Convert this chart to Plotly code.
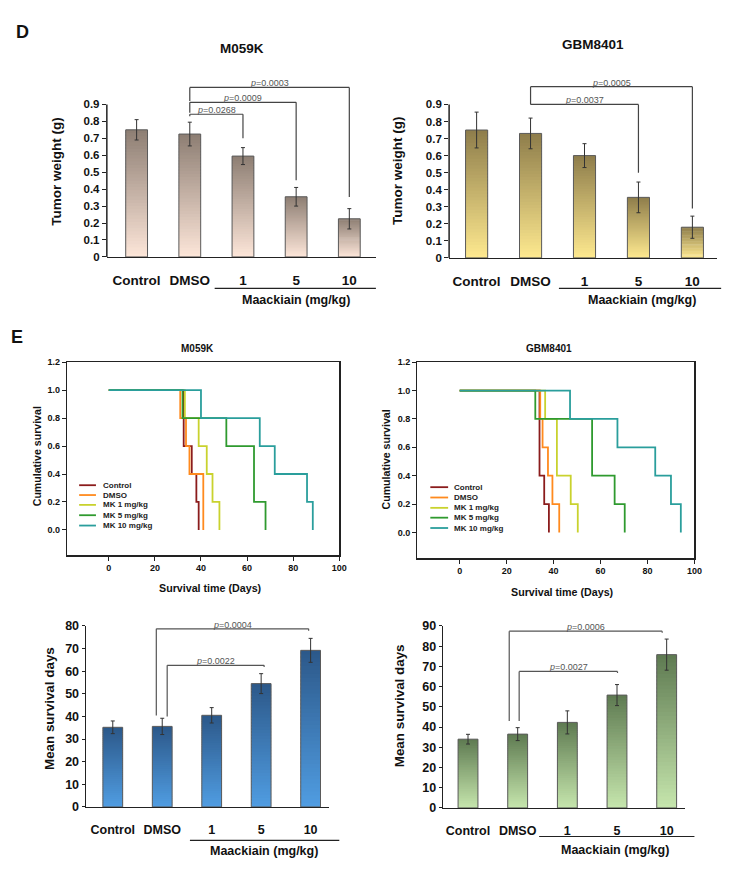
import plotly.graph_objects as go

W, H = 743, 873
FONT = "Liberation Sans, Arial, sans-serif"

# ---------------- data ----------------
categories = ["Control", "DMSO", "1", "5", "10"]

# Panel D: tumor weight (g)
d_m059k_mean = [0.75, 0.725, 0.595, 0.355, 0.225]
d_m059k_err = [0.06, 0.07, 0.05, 0.055, 0.06]
d_gbm_mean = [0.75, 0.73, 0.60, 0.355, 0.18]
d_gbm_err = [0.105, 0.09, 0.07, 0.09, 0.065]

# Panel E (bottom): mean survival days
e_m059k_mean = [35.2, 35.6, 40.5, 54.5, 69.2]
e_m059k_err = [2.8, 3.6, 3.4, 4.4, 5.3]
e_gbm_mean = [34.0, 36.5, 42.3, 55.8, 75.8]
e_gbm_err = [2.4, 3.2, 5.7, 5.2, 7.7]

# significance brackets: (from, to, top, left end, right end, p)
d_m059k_brackets = [(1, 2, 0.842, 0.83, 0.70, "0.0268"),
                    (1, 3, 0.912, 0.85, 0.453, "0.0009"),
                    (1, 4, 1.00, 0.92, 0.354, "0.0003")]
d_gbm_brackets = [(1, 3, 0.90, 0.90, 0.50, "0.0037"),
                  (1, 4, 1.004, 0.90, 0.29, "0.0005")]
e_m059k_brackets = [(1.1, 3.06, 62.6, 40.0, 61.8, "0.0022"),
                    (0.88, 3.96, 78.7, 40.4, 77.9, "0.0004")]
e_gbm_brackets = [(1.03, 3.01, 67.5, 43.0, 66.7, "0.0027"),
                  (0.83, 3.91, 87.4, 43.0, 86.6, "0.0006")]

# Kaplan-Meier curves
km_groups = ["Control", "DMSO", "MK 1 mg/kg", "MK 5 mg/kg", "MK 10 mg/kg"]
km_colors = ["#8b1c1c", "#ff8a1e", "#c9d22e", "#2f9a2f", "#2a9e9c"]
km_m059k_t = [[0, 32.5, 36, 38, 39],
              [0, 31, 33.5, 35, 41],
              [0, 33, 39, 42.5, 45, 48],
              [0, 32, 51, 63, 68],
              [0, 40, 65.5, 72, 86, 88.5]]
km_m059k_s = [[1, 0.6, 0.4, 0.2, 0],
              [1, 0.8, 0.6, 0.4, 0],
              [1, 0.8, 0.6, 0.4, 0.2, 0],
              [1, 0.8, 0.6, 0.2, 0],
              [1, 0.8, 0.6, 0.4, 0.2, 0]]
km_gbm_t = [[0, 34, 36, 38],
            [0, 34.3, 35.3, 37.6, 39.5, 42.4],
            [0, 36.4, 41.4, 47.3, 50.3],
            [0, 32.2, 56.4, 66, 70.3],
            [0, 47, 67.2, 83.3, 90, 94.2]]
km_gbm_s = [[1, 0.4, 0.2, 0],
            [1, 0.8, 0.6, 0.4, 0.2, 0],
            [1, 0.8, 0.4, 0.2, 0],
            [1, 0.8, 0.4, 0.2, 0],
            [1, 0.8, 0.6, 0.4, 0.2, 0]]


# ---------------- helpers ----------------
def px(x):
    return x / W


def py(y):
    return 1 - y / H


def hex2rgb(h):
    h = h.lstrip("#")
    return [int(h[i:i + 2], 16) for i in (0, 2, 4)]


def lerp(c1, c2, t):
    a, b = hex2rgb(c1), hex2rgb(c2)
    return "rgb(%d,%d,%d)" % tuple(round(a[i] + (b[i] - a[i]) * t) for i in range(3))


fig = go.Figure()
shapes = []
annotations = []
N = 40
xpos = list(range(len(categories)))


def add_bar_panel(k, means, errs, top_col, bot_col, brackets, width, line_col):
    xa, ya = ("x%d" % k if k > 1 else "x"), ("y%d" % k if k > 1 else "y")
    for i in range(N):
        frac = 1.0 / N * (1.6 if i < N - 1 else 1.0)
        fig.add_trace(go.Bar(
            x=xpos, y=[m * frac for m in means], base=[m * i / N for m in means],
            width=width, marker=dict(color=lerp(bot_col, top_col, (i + 0.5) / N), line=dict(width=0)),
            xaxis=xa, yaxis=ya, showlegend=False, hoverinfo="skip"))
    fig.add_trace(go.Bar(
        x=xpos, y=means, base=[0] * len(means), width=width,
        marker=dict(color="rgba(0,0,0,0)", line=dict(color="#5a5a5a", width=1)),
        error_y=dict(type="data", array=errs, color="#333333", thickness=1, width=2),
        xaxis=xa, yaxis=ya, showlegend=False))
    for (a, b, top, le, re, p) in brackets:
        for (x0, y0, x1, y1) in [(a, le, a, top), (a, top, b, top), (b, top, b, re)]:
            shapes.append(dict(type="line", xref=xa, yref=ya, x0=x0, y0=y0, x1=x1, y1=y1,
                               line=dict(color=line_col, width=1.2)))
        annotations.append(dict(xref=xa, yref=ya, x=(a + b) / 2, y=top, yanchor="bottom",
                                text="<i>p</i>=" + p, showarrow=False, yshift=-3,
                                font=dict(family=FONT, size=9, color="#555555")))


# Panel D
add_bar_panel(1, d_m059k_mean, d_m059k_err, "#8d7e73", "#fde6d9", d_m059k_brackets, 0.41, "#444444")
add_bar_panel(2, d_gbm_mean, d_gbm_err, "#8e7d4b", "#fee98f", d_gbm_brackets, 0.41, "#444444")
# Panel E bottom
add_bar_panel(5, e_m059k_mean, e_m059k_err, "#2c5889", "#509de2", e_m059k_brackets, 0.40, "#555555")
add_bar_panel(6, e_gbm_mean, e_gbm_err, "#5e7a51", "#c6e6ad", e_gbm_brackets, 0.40, "#555555")

# KM panels
for k, T, S in [(3, km_m059k_t, km_m059k_s), (4, km_gbm_t, km_gbm_s)]:
    for g, c, t, s in zip(km_groups, km_colors, T, S):
        fig.add_trace(go.Scatter(x=t, y=s, mode="lines", line=dict(color=c, width=1.8, shape="hv"),
                                 name=g, xaxis="x%d" % k, yaxis="y%d" % k, showlegend=False))

# KM legends (compact, drawn as line samples + text)
for (lx0, lx1, tx, rows) in [(80, 97, 102, [486, 496, 506, 516.5, 527]),
                             (435, 453, 457, [488, 498.5, 509, 519, 529.5])]:
    for g, c, r in zip(km_groups, km_colors, rows):
        shapes.append(dict(type="line", xref="paper", yref="paper", x0=px(lx0), x1=px(lx1),
                           y0=py(r), y1=py(r), line=dict(color=c, width=1.8)))
        annotations.append(dict(xref="paper", yref="paper", x=px(tx), y=py(r), xanchor="left",
                                yanchor="middle", text=g, showarrow=False,
                                font=dict(family=FONT, size=8, color="#222", weight="bold")))

# ---------------- axes ----------------
bar_x_common = dict(showgrid=False, zeroline=False, showline=True, linecolor="#222", linewidth=1.5,
                    tickmode="array", tickvals=xpos, ticktext=categories, ticks="outside",
                    tickcolor="rgba(0,0,0,0)", fixedrange=True)
bar_y_common = dict(showgrid=False, zeroline=False, showline=False, ticks="outside",
                    tickcolor="#222", ticklen=4, tickwidth=1, fixedrange=True)

D_TICKS = [0, 0.1, 0.2, 0.3, 0.4, 0.5, 0.6, 0.7, 0.8, 0.9]
D_TICKTEXT = ["0"] + ["%.1f" % v for v in D_TICKS[1:]]

layout_axes = dict(
    xaxis=dict(domain=[px(108), px(380)], range=[-0.56, 4.5], ticklen=10,
               tickfont=dict(family=FONT, size=13.5, color="#111", weight="bold"), anchor="y", **bar_x_common),
    yaxis=dict(domain=[py(254), py(76.6)], range=[0, 1.03], tickvals=D_TICKS, ticktext=D_TICKTEXT,
               tickfont=dict(family=FONT, size=11.5, color="#111", weight="bold"), anchor="x", **bar_y_common),
    xaxis2=dict(domain=[px(454), px(725)], range=[-0.51, 4.46], ticklen=10,
                tickfont=dict(family=FONT, size=13.5, color="#111", weight="bold"), anchor="y2", **bar_x_common),
    yaxis2=dict(domain=[py(255), py(76.5)], range=[0, 1.03], tickvals=D_TICKS, ticktext=D_TICKTEXT,
                tickfont=dict(family=FONT, size=11.5, color="#111", weight="bold"), anchor="x2", **bar_y_common),
    xaxis5=dict(domain=[px(87), px(333)], range=[-0.54, 4.38], ticklen=11,
                tickfont=dict(family=FONT, size=12.5, color="#111", weight="bold"), anchor="y5", **bar_x_common),
    yaxis5=dict(domain=[py(813), py(629)], range=[0, 80], tickvals=list(range(0, 81, 10)),
                tickfont=dict(family=FONT, size=12.5, color="#111", weight="bold"), anchor="x5",
                **{**bar_y_common, "showline": True, "linecolor": "#222", "linewidth": 1.5, "ticklen": 3}),
    xaxis6=dict(domain=[px(448), px(692)], range=[-0.5, 4.36], ticklen=11,
                tickfont=dict(family=FONT, size=12.5, color="#111", weight="bold"), anchor="y6", **bar_x_common),
    yaxis6=dict(domain=[py(814), py(629)], range=[0, 90], tickvals=list(range(0, 91, 10)),
                tickfont=dict(family=FONT, size=12.5, color="#111", weight="bold"), anchor="x6",
                **{**bar_y_common, "showline": True, "linecolor": "#222", "linewidth": 1.5, "ticklen": 3}),
)
km_x = dict(showgrid=False, zeroline=False, showline=True, mirror=True, linecolor="#222", linewidth=1.5,
            range=[-18, 100], tickvals=[0, 20, 40, 60, 80, 100], ticks="outside", ticklen=4, tickcolor="#222",
            tickfont=dict(family=FONT, size=9, color="#111", weight="bold"), fixedrange=True)
km_y = dict(showgrid=False, zeroline=False, showline=True, mirror=True, linecolor="#222", linewidth=1.5,
            range=[-0.18, 1.2], tickvals=[0, 0.2, 0.4, 0.6, 0.8, 1.0, 1.2], tickformat=".1f",
            ticks="outside", ticklen=4, tickcolor="#222",
            tickfont=dict(family=FONT, size=9, color="#111", weight="bold"), fixedrange=True)
layout_axes["xaxis3"] = dict(domain=[px(68), px(343)], anchor="y3", **km_x)
layout_axes["yaxis3"] = dict(domain=[py(557), py(361)], anchor="x3", **km_y)
layout_axes["xaxis4"] = dict(domain=[px(422), px(702)], anchor="y4", **km_x)
layout_axes["yaxis4"] = dict(domain=[py(560), py(361)], anchor="x4", **km_y)

# y axis lines of panel D (stop at 0.9)
for ya in ["y", "y2"]:
    xa = "x" if ya == "y" else "x2"
    shapes.append(dict(type="line", xref=xa + " domain", yref=ya, x0=0, x1=0, y0=0, y1=0.9,
                       line=dict(color="#222", width=1.5)))

# group underline + label
for (x0, x1, yl, tx, ty, fs) in [(217, 380, 286, 299, 298, 12.5), (565, 729, 286, 649, 298, 12.5),
                                 (192, 343, 847, 267, 858, 12.5), (545, 702, 843, 622, 857, 12.5)]:
    shapes.append(dict(type="line", xref="paper", yref="paper", x0=px(x0), x1=px(x1), y0=py(yl), y1=py(yl),
                       line=dict(color="#222", width=1.2)))
    annotations.append(dict(xref="paper", yref="paper", x=px(tx), y=py(ty), text="Maackiain (mg/kg)",
                            showarrow=False, xanchor="center", yanchor="middle",
                            font=dict(family=FONT, size=fs, color="#111", weight="bold")))


def txt(x, y, s, size, angle=0):
    annotations.append(dict(xref="paper", yref="paper", x=px(x), y=py(y), text=s, showarrow=False,
                            xanchor="center", yanchor="middle", textangle=angle,
                            font=dict(family=FONT, size=size, color="#111", weight="bold")))


txt(23, 25, "D", 18)
txt(17, 335, "E", 18)
txt(245, 42, "M059K", 13.5)
txt(599, 38, "GBM8401", 13.5)
txt(57, 167, "Tumor weight (g)", 13.5, -90)
txt(402, 167, "Tumor weight (g)", 13.5, -90)
txt(200, 347, "M059K", 10)
txt(555, 347, "GBM8401", 10)
txt(213, 590, "Survival time (Days)", 10.7)
txt(569, 595, "Survival time (Days)", 10.7)
txt(37, 457, "Cumulative survival", 10.6, -90)
txt(390, 460, "Cumulative survival", 10.6, -90)
txt(50, 713, "Mean survival days", 13.4, -90)
txt(404, 710, "Mean survival days", 13.4, -90)

fig.update_layout(
    width=W, height=H, margin=dict(l=0, r=0, t=0, b=0), autosize=False,
    paper_bgcolor="white", plot_bgcolor="white", barmode="overlay",
    shapes=shapes, annotations=annotations, showlegend=False,
    font=dict(family=FONT), **layout_axes)

fig.write_html("out.html", config={"displayModeBar": False, "staticPlot": True},
               post_script="document.body.style.margin='0';document.body.style.overflow='hidden';")
